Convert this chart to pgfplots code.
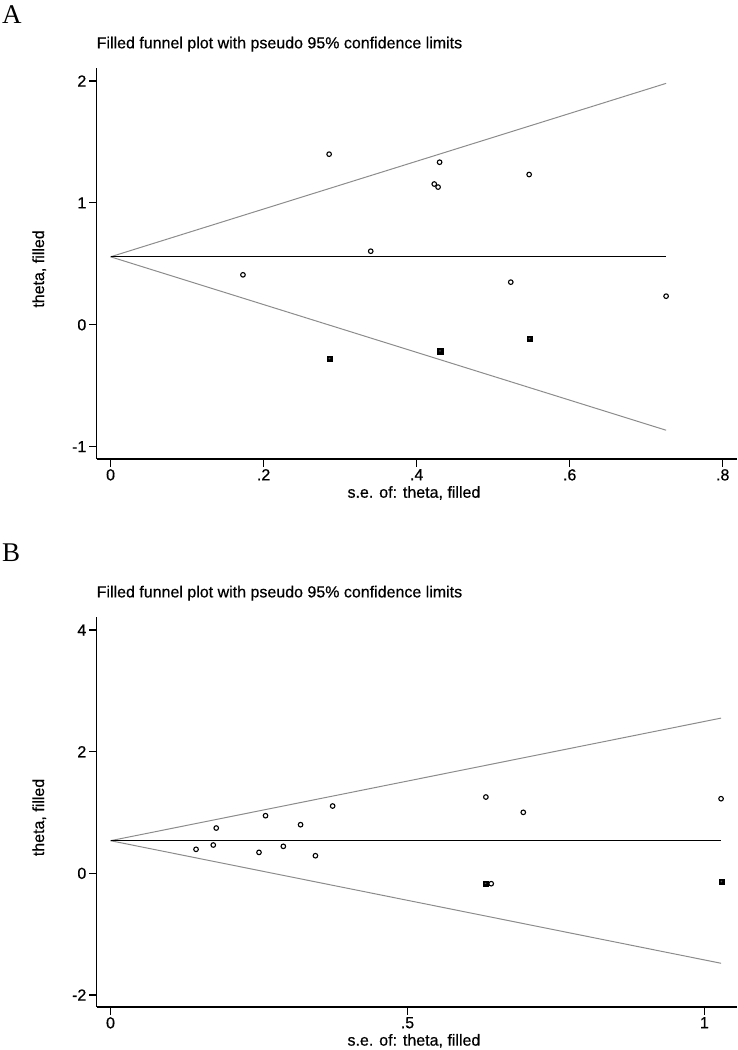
\documentclass[border=0pt]{standalone}
\usepackage{pgfplots}
\pgfplotsset{compat=1.18}
\usepackage{fontspec}
\setmainfont{Liberation Sans}[FakeBold=0.5]
\newfontfamily\panelfont{Liberation Serif}

% trim-and-fill funnel plots
% A: observed studies (se, theta)
\pgfplotstableread{
se     theta
0.2856 1.400
0.430  1.334
0.547  1.233
0.423  1.155
0.428  1.130
0.340  0.604
0.173  0.410
0.523  0.350
0.726  0.235
}\obsA
% A: filled studies
\pgfplotstableread{
se     theta
0.2866 -0.280
0.431  -0.216
0.548  -0.115
}\fillA
% A: pseudo 95% limits and pooled estimate
\pgfplotstableread{
se    lo     mid   hi
0     0.558  0.558 0.558
0.726 -0.865 0.558 1.981
}\limA

\pgfplotstableread{
se    theta
0.144 0.395
0.173 0.466
0.178 0.745
0.250 0.345
0.261 0.948
0.291 0.444
0.320 0.800
0.345 0.290
0.374 1.107
0.632 1.255
0.695 1.003
1.028 1.227
0.641 -0.170
}\obsB
\pgfplotstableread{
se    theta
0.632 -0.170
1.029 -0.140
}\fillB
\pgfplotstableread{
se    lo     mid   hi
0     0.537  0.537 0.537
1.028 -1.478 0.537 2.552
}\limB

\pgfplotsset{
  funnel/.style={
    scale only axis, width=640bp, height=390bp,
    axis lines*=left,
    axis line style={line width=1.2bp},
    tick align=outside, major tick length=7.5bp,
    tick style={line width=1.1bp, black},
    font=\fontsize{16bp}{18bp}\selectfont,
    yticklabel style={inner sep=0pt, xshift=-2.5bp},
    xticklabel style={inner sep=0pt, yshift=-2.5bp},
    title={Filled funnel plot with pseudo 95\% confidence limits},
    title style={at={(axis description cs:0,1.035)}, anchor=base west, inner sep=0pt},
    ylabel={theta, filled},
    ylabel style={at={(axis description cs:-0.082,0.486)}, anchor=base, inner sep=0pt},
    xlabel={s.e. of: theta, filled},
    xlabel style={at={(axis description cs:0.496,-0.099)}, anchor=base, inner sep=0pt},
    clip=false,
  },
  obs/.style={only marks, mark=o, mark size=2.3bp, mark options={line width=1.1bp, draw=black}},
  filled/.style={only marks, mark=square*, mark size=2.8bp,
    mark options={line width=0.6bp, draw=black, fill=black}},
  hole/.style={only marks, mark=*, mark size=0.9bp,
    mark options={draw=none, fill=white, xshift=-0.4bp, yshift=0.4bp}},
  limit/.style={draw=gray!90, line width=1bp, no marks},
}

\begin{document}
\begin{tikzpicture}
\useasboundingbox (0,0) rectangle (738bp,-1050bp);
\node[anchor=base west, inner sep=0pt, font=\panelfont\fontsize{27bp}{30bp}\selectfont] at (2bp,-23.3bp) {A};
\node[anchor=base west, inner sep=0pt, font=\panelfont\fontsize{27bp}{30bp}\selectfont] at (2bp,-561bp) {B};

\begin{axis}[funnel,
  at={(96.5bp,-459bp)}, anchor=south west, height=391bp,
  xmin=-0.0184, xmax=0.818, ymin=-1.101, ymax=2.107,
  xtick={0,0.2,0.4,0.6,0.8}, xticklabels={0,.2,.4,.6,.8},
  ytick={-1,0,1,2}, yticklabels={-1,0,1,2},
]
\addplot[limit] table[x=se, y=lo] {\limA};
\addplot[limit] table[x=se, y=hi] {\limA};
\addplot[black, line width=1.2bp, no marks] table[x=se, y=mid] {\limA};
\addplot[obs] table[x=se, y=theta] {\obsA};
\addplot[filled] table[x=se, y=theta] {\fillA};
\addplot[hole] table[x=se, y=theta] {\fillA};
\end{axis}

\begin{axis}[funnel,
  at={(96.5bp,-1007bp)}, anchor=south west, height=390bp,
  xmin=-0.0236, xmax=1.054, ymin=-2.197, ymax=4.214,
  xtick={0,0.5,1}, xticklabels={0,.5,1},
  ytick={-2,0,2,4}, yticklabels={-2,0,2,4},
]
\addplot[limit] table[x=se, y=lo] {\limB};
\addplot[limit] table[x=se, y=hi] {\limB};
\addplot[black, line width=1.2bp, no marks] table[x=se, y=mid] {\limB};
\addplot[obs] table[x=se, y=theta] {\obsB};
\addplot[filled] table[x=se, y=theta] {\fillB};
\addplot[hole] table[x=se, y=theta] {\fillB};
\end{axis}
\end{tikzpicture}
\end{document}
